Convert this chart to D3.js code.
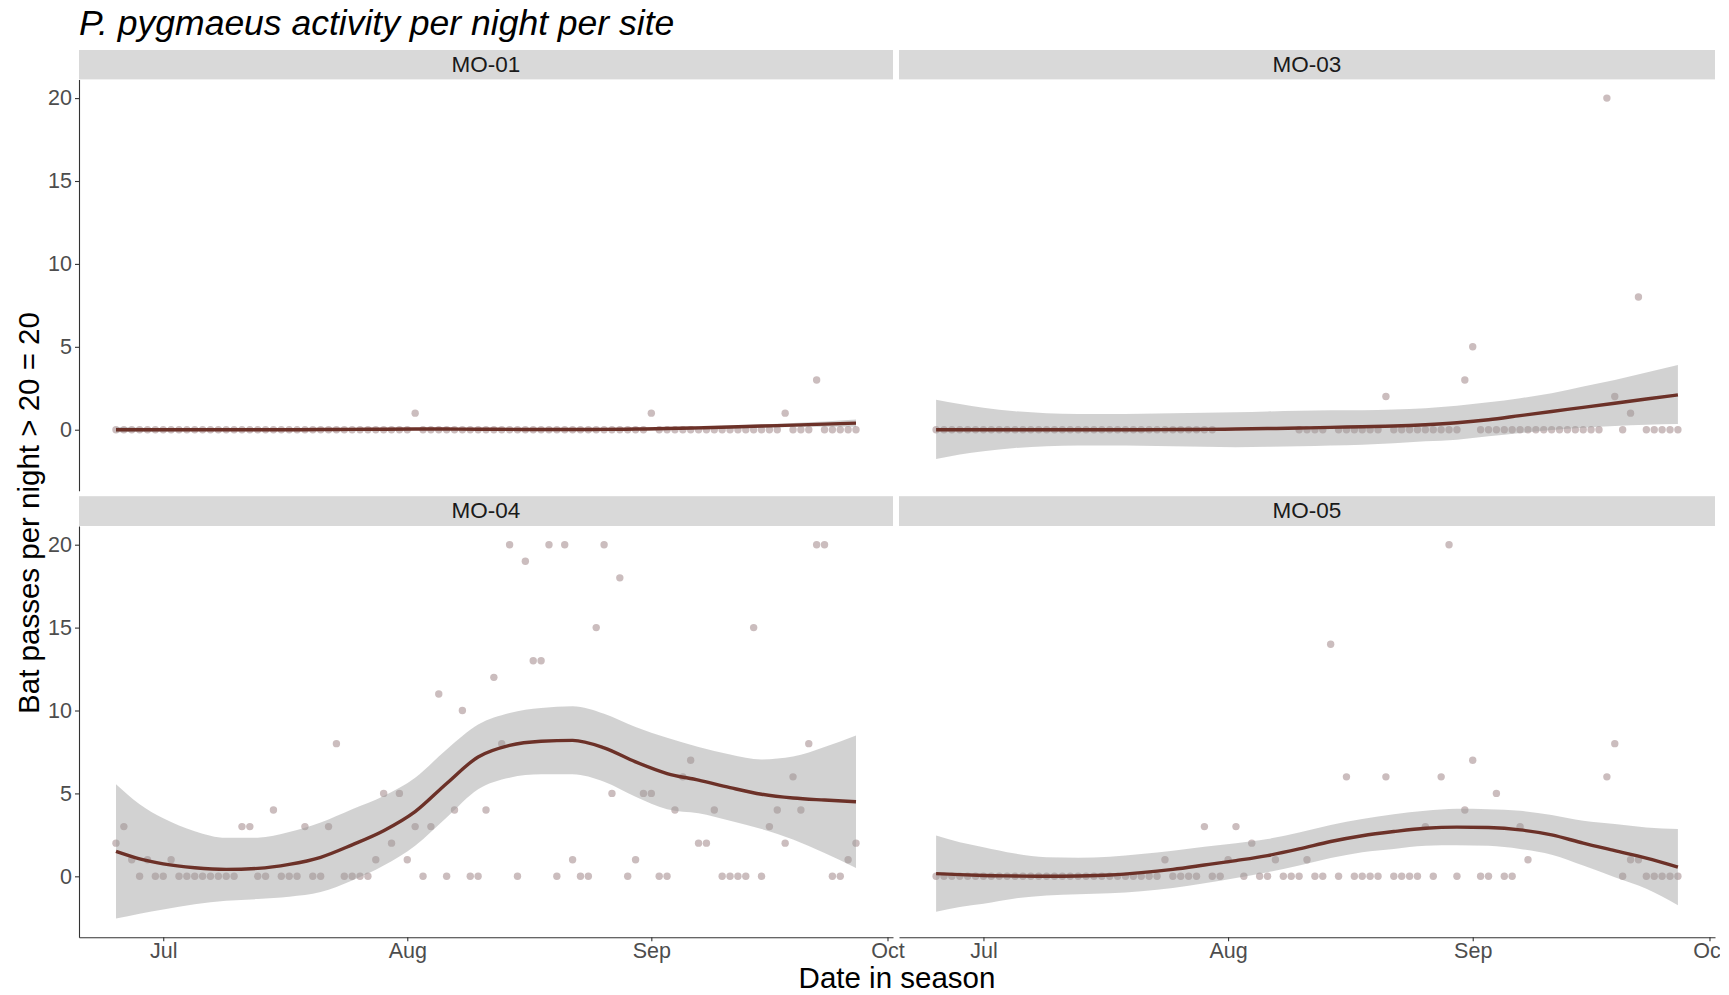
<!DOCTYPE html>
<html><head><meta charset="utf-8">
<script src="https://cdn.jsdelivr.net/npm/d3@7"></script>
<style>
body{margin:0;background:#fff;}
svg{display:block;font-family:"Liberation Sans",Arial,Helvetica,sans-serif;}
</style>
</head><body>
<svg id="chart" width="1729" height="995"></svg>
<script>
// ---------------- data ----------------
const title = "P. pygmaeus activity per night per site";
const xTitle = "Date in season";
const yTitle = "Bat passes per night > 20 = 20";
const sites = ["MO-01", "MO-03", "MO-04", "MO-05"];
const firstNight = new Date(2021, 5, 25);   // 25 June, one value per consecutive night
const yTickValues = [0, 5, 10, 15, 20];
const monthLabelFormat = "%b";

// bat passes per night (null = no recording that night)
const valsMO01 = [0,0,0,0,0,0,0,0,0,0, 0,0,0,0,0,0,0,0,0,0, 0,0,0,0,0,0,0,0,0,0,
  0,0,0,0,0,0,0,0,1,0, 0,0,0,0,0,0,0,0,0,0, 0,0,0,0,0,0,0,0,0,0,
  0,0,0,0,0,0,0,0,1,0, 0,0,0,0,0,0,0,0,0,0, 0,0,0,0,0,1,0,0,0,3, 0,0,0,0,0];
const valsMO03 = [0,0,0,0,0,0,0,0,0,0, 0,0,0,0,0,0,0,0,0,0, 0,0,0,0,0,0,0,0,0,0,
  0,0,0,0,0,0,null,null,null,null, null,null,null,null,null,null,0,0,0,0,
  null,0,0,0,0,0,0,2,0,0, 0,0,0,0,0,0,0,3,5,0, 0,0,0,0,0,0,0,0,0,0,
  0,0,0,0,0,20,2,0,1,8, 0,0,0,0,0];
const valsMO04 = [2,3,1,0,1,0,0,1,0,0, 0,0,0,0,0,0,3,3,0,0, 4,0,0,0,3,0,0,3,8,0,
  0,0,0,1,5,2,5,1,3,0, 3,11,0,4,10,0,0,4,12,8, 20,0,19,13,13,20,0,20,1,0,
  0,15,20,5,18,0,1,5,5,0, 0,4,6,7,2,2,4,0,0,0, 0,15,0,3,4,2,6,4,8,20, 20,0,0,1,2];
const valsMO05 = [0,0,0,0,0,0,0,0,0,0, 0,0,0,0,0,0,0,0,0,0, 0,0,0,0,0,0,0,0,0,1,
  0,0,0,0,3,0,0,1,3,0, 2,0,0,1,0,0,0,1,0,0, 14,0,6,0,0,0,0,6,0,0,
  0,0,3,0,6,20,0,4,7,0, 0,5,0,0,3,1,null,null,null,null,
  null,null,null,null,null,6,8,0,1,1, 0,0,0,0,0];

// smoothed trend (night index from 25 June)
const smoothNight = [0,3,6,10,14,18,22,26,30,34,38,42,46,50,54,58,62,66,70,74,78,82,86,90,94];
const fitMO01 = [0,0,0,0,0,0,0,0.01,0.02,0.03,0.04,0.04,0.03,0.02,0.01,0.01,0.02,0.04,0.07,0.11,0.16,0.22,0.28,0.34,0.4];
const loMO01  = [-0.16,-0.12,-0.1,-0.08,-0.07,-0.07,-0.07,-0.06,-0.05,-0.04,-0.03,-0.03,-0.04,-0.05,-0.06,-0.06,-0.05,-0.03,-0.01,0.03,0.07,0.12,0.16,0.18,0.18];
const hiMO01  = [0.16,0.12,0.1,0.08,0.07,0.07,0.07,0.08,0.09,0.1,0.11,0.11,0.1,0.09,0.08,0.08,0.09,0.11,0.15,0.19,0.25,0.32,0.4,0.5,0.62];
const fitMO03 = [0,0,0,0,0,0,0,0,0.01,0.02,0.04,0.07,0.1,0.14,0.18,0.22,0.3,0.42,0.6,0.85,1.1,1.35,1.6,1.85,2.1];
const loMO03  = [-1.77,-1.5,-1.3,-1.1,-1.0,-0.95,-0.95,-0.97,-1.0,-1.03,-1.05,-1.03,-1.0,-0.95,-0.9,-0.82,-0.7,-0.6,-0.4,-0.2,-0.02,0.12,0.22,0.3,0.34];
const hiMO03  = [1.81,1.55,1.33,1.12,1.0,0.95,0.95,0.97,1.0,1.03,1.05,1.1,1.15,1.18,1.18,1.22,1.3,1.45,1.65,1.9,2.2,2.6,3.0,3.45,3.9];
const fitMO04 = [1.5,1.05,0.75,0.52,0.42,0.48,0.72,1.15,1.9,2.75,3.9,5.6,7.2,7.9,8.15,8.2,7.75,6.9,6.2,5.8,5.35,4.95,4.72,4.6,4.5];
const loMO04  = [-2.55,-2.25,-2.0,-1.68,-1.48,-1.37,-1.23,-0.95,-0.25,0.65,1.85,3.55,5.25,5.95,6.15,6.15,5.7,4.8,4.05,3.8,3.35,2.85,2.22,1.4,0.5];
const hiMO04  = [5.55,4.35,3.5,2.72,2.32,2.33,2.67,3.25,4.05,4.85,5.95,7.65,9.15,9.85,10.15,10.25,9.8,9.0,8.35,7.8,7.35,7.05,7.22,7.8,8.5];
const fitMO05 = [0.16,0.1,0.05,0.02,0.0,0.02,0.08,0.22,0.42,0.68,0.95,1.25,1.65,2.1,2.45,2.7,2.9,2.97,2.94,2.8,2.5,2.0,1.55,1.1,0.56];
const loMO05  = [-2.14,-1.85,-1.65,-1.33,-1.15,-1.08,-1.02,-0.9,-0.7,-0.42,-0.1,0.25,0.65,1.1,1.45,1.65,1.85,1.87,1.84,1.65,1.3,0.65,-0.05,-0.75,-1.74];
const hiMO05  = [2.46,2.05,1.75,1.37,1.15,1.12,1.18,1.34,1.54,1.78,2.0,2.25,2.65,3.1,3.45,3.75,3.95,4.07,4.04,3.95,3.7,3.35,3.15,2.95,2.86];

const siteVals = {"MO-01": valsMO01, "MO-03": valsMO03, "MO-04": valsMO04, "MO-05": valsMO05};
const siteFit = {"MO-01": fitMO01, "MO-03": fitMO03, "MO-04": fitMO04, "MO-05": fitMO05};
const siteLo = {"MO-01": loMO01, "MO-03": loMO03, "MO-04": loMO04, "MO-05": loMO05};
const siteHi = {"MO-01": hiMO01, "MO-03": hiMO03, "MO-04": hiMO04, "MO-05": hiMO05};

// ---------------- layout / style ----------------
const colX = [[79, 893], [899, 1715]];
const rows = [{strip: [50, 79.4], plot: [79.4, 490.7]}, {strip: [496.2, 526], plot: [526, 937.3]}];
const pointColor = "#cbbdbe", lineColor = "#6c3128", ribbonColor = "#999999";
const axisColor = "#333333", tickTextColor = "#4d4d4d";

const svg = d3.select("#chart");
const nightDate = i => d3.timeDay.offset(firstNight, i);

// whole-figure clip (the original figure is cut at its right edge)
svg.append("clipPath").attr("id", "figclip").append("rect")
  .attr("x", 0).attr("y", 0).attr("width", 1720).attr("height", 995);
const fig = svg.append("g").attr("clip-path", "url(#figclip)");

// shared scales domain (fixed scales, 5% expansion like ggplot)
const nNights = valsMO01.length;
const xExt = [nightDate(0), nightDate(nNights - 1)];
const xSpan = xExt[1] - xExt[0];
const xDomain = [new Date(+xExt[0] - 0.05 * xSpan), new Date(+xExt[1] + 0.05 * xSpan)];
const allY = [];
sites.forEach(s => {
  siteVals[s].forEach(v => { if (v !== null) allY.push(v); });
  siteLo[s].forEach(v => allY.push(v));
  siteHi[s].forEach(v => allY.push(v));
});
const yMin = d3.min(allY), yMax = d3.max(allY), ySpan = yMax - yMin;
const yDomain = [yMin - 0.05 * ySpan, yMax + 0.05 * ySpan];

// title
fig.append("text").attr("x", 79).attr("y", 35)
  .attr("font-size", 35.5).attr("font-style", "italic").attr("fill", "#000").text(title);

sites.forEach((site, k) => {
  const c = k % 2, r = Math.floor(k / 2);
  const [x0, x1] = colX[c];
  const row = rows[r];
  const x = d3.scaleTime().domain(xDomain).range([x0, x1]);
  const y = d3.scaleLinear().domain(yDomain).range([row.plot[1], row.plot[0]]);

  // strip
  fig.append("rect").attr("x", x0).attr("y", row.strip[0])
    .attr("width", x1 - x0).attr("height", row.strip[1] - row.strip[0]).attr("fill", "#d9d9d9");
  fig.append("text").attr("x", (x0 + x1) / 2).attr("y", (row.strip[0] + row.strip[1]) / 2 - 1)
    .attr("dy", "0.36em").attr("text-anchor", "middle").attr("font-size", 22.5)
    .attr("fill", "#1a1a1a").text(site);

  const clipId = "clip" + k;
  svg.append("clipPath").attr("id", clipId).append("rect")
    .attr("x", x0).attr("y", row.plot[0]).attr("width", x1 - x0).attr("height", row.plot[1] - row.plot[0]);
  const g = fig.append("g").attr("clip-path", `url(#${clipId})`);

  // points
  const pts = siteVals[site].map((v, i) => ({date: nightDate(i), v})).filter(d => d.v !== null);
  g.selectAll("circle").data(pts).join("circle")
    .attr("cx", d => x(d.date)).attr("cy", d => y(d.v)).attr("r", 3.7).attr("fill", pointColor);

  // smooth ribbon + line
  const sm = smoothNight.map((n, i) => ({date: nightDate(n), fit: siteFit[site][i], lo: siteLo[site][i], hi: siteHi[site][i]}));
  g.append("path").datum(sm)
    .attr("d", d3.area().x(d => x(d.date)).y0(d => y(d.lo)).y1(d => y(d.hi)).curve(d3.curveMonotoneX))
    .attr("fill", ribbonColor).attr("fill-opacity", 0.44);
  g.append("path").datum(sm)
    .attr("d", d3.line().x(d => x(d.date)).y(d => y(d.fit)).curve(d3.curveMonotoneX))
    .attr("fill", "none").attr("stroke", lineColor).attr("stroke-width", 3.4);

  // axes
  if (c === 0) {
    const ya = fig.append("g").attr("transform", `translate(${x0},0)`)
      .call(d3.axisLeft(y).tickValues(yTickValues).tickSize(4).tickSizeOuter(0).tickPadding(3));
    ya.select(".domain").attr("stroke", axisColor).attr("stroke-width", 1.1);
    ya.selectAll(".tick line").attr("stroke", axisColor).attr("stroke-width", 1.1);
    ya.selectAll(".tick text").attr("font-size", 21.5).attr("fill", tickTextColor)
      .attr("font-family", "'Liberation Sans',Arial,sans-serif");
  }
  if (r === 1) {
    const xa = fig.append("g").attr("transform", `translate(0,${row.plot[1]})`)
      .call(d3.axisBottom(x).ticks(d3.timeMonth.every(1)).tickFormat(d3.timeFormat(monthLabelFormat))
        .tickSize(4).tickSizeOuter(0).tickPadding(1.5));
    xa.select(".domain").attr("stroke", axisColor).attr("stroke-width", 1.1);
    xa.selectAll(".tick line").attr("stroke", axisColor).attr("stroke-width", 1.1);
    xa.selectAll(".tick text").attr("font-size", 21.5).attr("fill", tickTextColor)
      .attr("font-family", "'Liberation Sans',Arial,sans-serif");
  }
});

// axis titles
fig.append("text").attr("x", 897).attr("y", 988).attr("text-anchor", "middle")
  .attr("font-size", 29.5).attr("fill", "#000").text(xTitle);
fig.append("text").attr("transform", "translate(39,513) rotate(-90)").attr("text-anchor", "middle")
  .attr("font-size", 29.5).attr("fill", "#000").text(yTitle);
</script>
</body></html>
